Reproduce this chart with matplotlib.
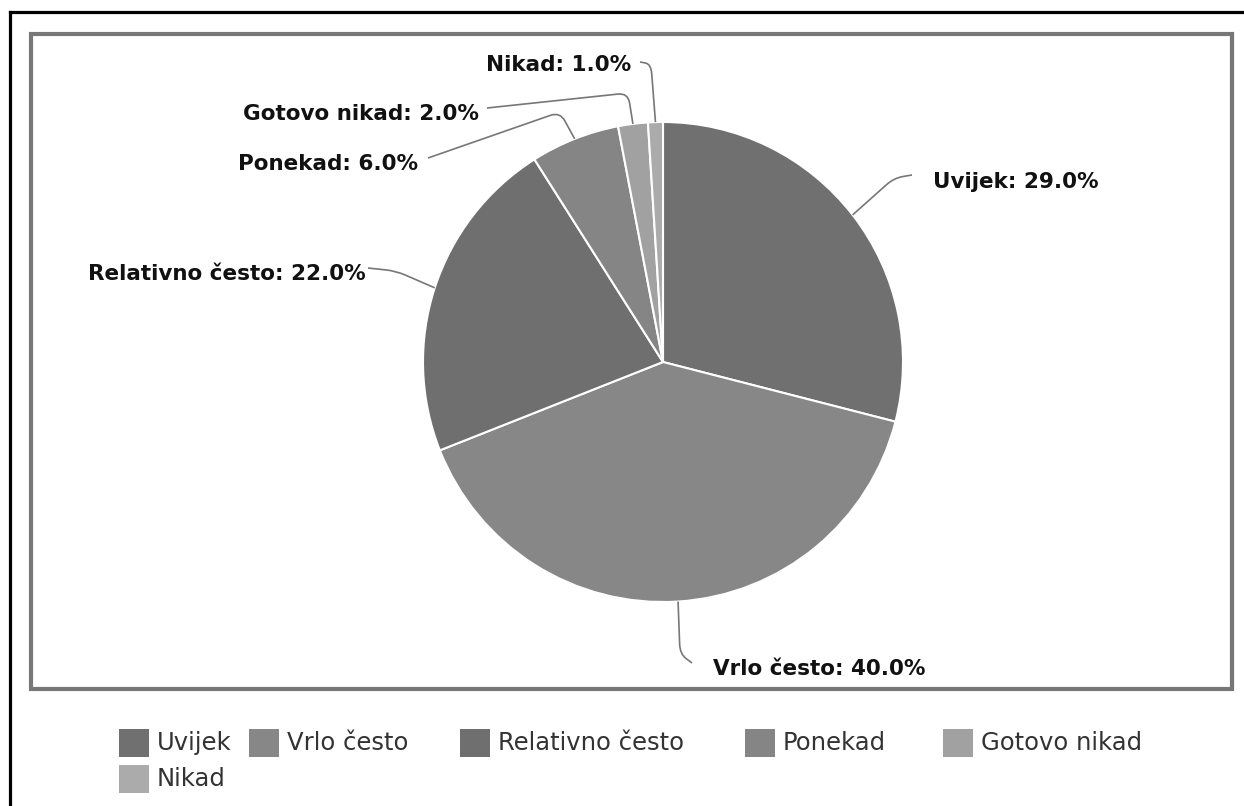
import matplotlib
matplotlib.use("Agg")
import matplotlib.pyplot as plt
import numpy as np
from matplotlib.patches import Rectangle
from matplotlib.path import Path
from matplotlib.patches import PathPatch

# Data
categories = ['Uvijek', 'Vrlo često', 'Relativno često', 'Ponekad', 'Gotovo nikad', 'Nikad']
values = [29.0, 40.0, 22.0, 6.0, 2.0, 1.0]
colors = ['#707070', '#878787', '#6f6f6f', '#858585', '#a1a1a1', '#ababab']

W, H = 1244, 806
fig = plt.figure(figsize=(W / 100, H / 100), dpi=100)
ax = fig.add_axes([0, 0, 1, 1])


def P(x, y):
    # pixel (top-left origin) -> axes data coords
    return x, H - y


cx, cy = 663, 362
R = 240
ax.pie(values, colors=colors, startangle=90, counterclock=False,
       center=P(cx, cy), radius=R,
       wedgeprops=dict(edgecolor='white', linewidth=1.5))
ax.set_xlim(0, W)
ax.set_ylim(0, H)
ax.set_aspect('auto')
ax.axis('off')

# frames
ax.plot([10, 10], [0, H - 11.5], color='black', lw=2.3, solid_capstyle='projecting')
ax.plot([10, W], [H - 11.5, H - 11.5], color='black', lw=2.3, solid_capstyle='projecting')
x0, y0 = P(31, 689)
ax.add_patch(Rectangle((x0, y0), 1232 - 31, 689 - 34, fill=False,
                       edgecolor='#777777', lw=3.0))

# label layout: text anchor (px), ha, connector start and bend (px)
label_layout = {
    'Uvijek': ((933, 182), 'left', (912, 175), (894, 178)),
    'Vrlo često': ((713, 669), 'left', (692, 663), (680, 654)),
    'Relativno često': ((366, 274), 'right', (368, 268), (396, 271)),
    'Ponekad': ((418, 164), 'right', (428, 158), (560, 112)),
    'Gotovo nikad': ((479, 114), 'right', (487, 108), (628, 93)),
    'Nikad': ((631, 65), 'right', (640, 62), (651, 64)),
}


def connector(p0, p1, p2, r=10):
    p0, p1, p2 = np.array(p0, float), np.array(p1, float), np.array(p2, float)
    d1 = p1 - p0
    d2 = p2 - p1
    r1 = min(r, np.linalg.norm(d1) / 2)
    r2 = min(r, np.linalg.norm(d2) / 2)
    a = p1 - d1 / np.linalg.norm(d1) * r1
    b = p1 + d2 / np.linalg.norm(d2) * r2
    verts = [P(*p0), P(*a), P(*p1), P(*b), P(*p2)]
    codes = [Path.MOVETO, Path.LINETO, Path.CURVE3, Path.CURVE3, Path.LINETO]
    return PathPatch(Path(verts, codes), fill=False, edgecolor='#777777', lw=1.2)


total = sum(values)
cum = 0
for cat, v in zip(categories, values):
    mid = (cum + v / 2) / total * 360
    cum += v
    ang = np.deg2rad(90 - mid)
    ex, ey = cx + R * np.cos(ang), cy - R * np.sin(ang)
    (tx, ty), ha, start, bend = label_layout[cat]
    ax.add_patch(connector(start, bend, (ex, ey)))
    ax.text(*P(tx, ty), f'{cat}: {v:.1f}%', ha=ha, va='center',
            fontsize=15.5, fontweight='bold', family='DejaVu Sans', color='#111111')

# legend
legend_pos = [(119, 743), (249, 743), (460, 743), (745, 743), (943, 743), (119, 779)]
for (lx, ly), cat, col in zip(legend_pos, categories, colors):
    ax.add_patch(Rectangle(P(lx, ly + 14), 30, 28, facecolor=col, edgecolor='none'))
    ax.text(*P(lx + 38, ly), cat, ha='left', va='center', fontsize=17.5,
            family='DejaVu Sans', color='#333333')

fig.savefig('out.png', dpi=100)
